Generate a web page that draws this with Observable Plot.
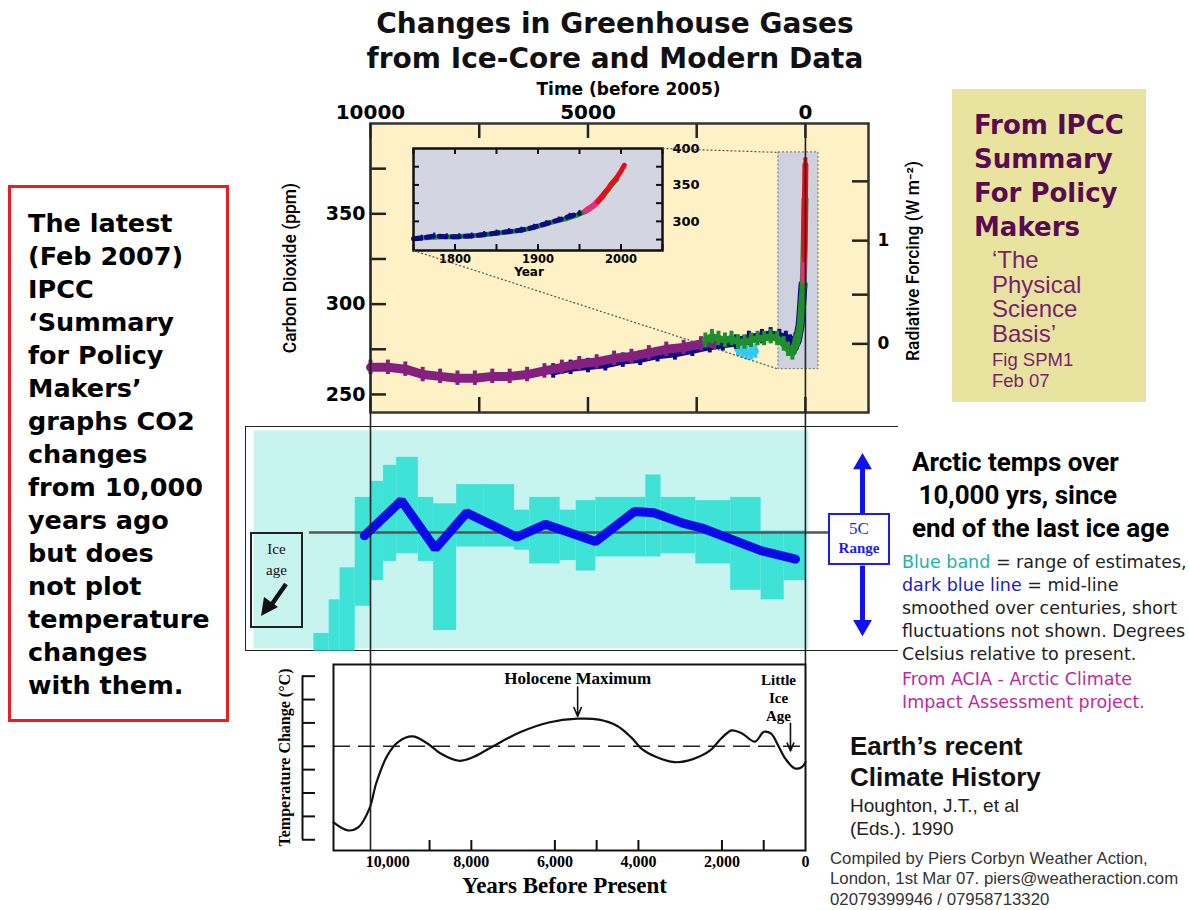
<!DOCTYPE html>
<html><head><meta charset="utf-8">
<script src="https://cdn.jsdelivr.net/npm/d3@7"></script>
<script src="https://cdn.jsdelivr.net/npm/@observablehq/plot@0.6"></script>
<style>
body{margin:0;background:#fff;}
#page{position:relative;width:1189px;height:910px;overflow:hidden;background:#fff;}
.abs{position:absolute;}
.abs svg{overflow:visible;display:block;max-width:none;background:transparent;}
</style></head><body><div id="page">
<div class="abs" style="left:330px;top:6px;width:570px;text-align:center;font:bold 28px/35px 'DejaVu Sans';color:#111;white-space:nowrap;">Changes in Greenhouse Gases<br>from Ice-Core and Modern Data</div>
<div class="abs" style="left:8px;top:185px;width:221px;height:537px;border:3px solid #ee1c1c;box-sizing:border-box;padding:19px 0 0 17px;font:bold 25.5px/33px 'DejaVu Sans';color:#000;white-space:nowrap;">The latest<br>(Feb 2007)<br>IPCC<br>‘Summary<br>for Policy<br>Makers’<br>graphs CO2<br>changes<br>from 10,000<br>years ago<br>but does<br>not plot<br>temperature<br>changes<br>with them.</div>
<div class="abs" style="left:952px;top:89px;width:194px;height:313px;background:#e8e4a0;">
 <div style="position:absolute;left:22px;top:19px;font:bold 26px/34px 'DejaVu Sans';color:#5a0a50;white-space:nowrap;">From IPCC<br>Summary<br>For Policy<br>Makers</div>
 <div style="position:absolute;left:40px;top:159px;font:24px/24.5px 'Liberation Sans';color:#7a1f6e;white-space:nowrap;">‘The<br>Physical<br>Science<br>Basis’</div>
 <div style="position:absolute;left:40px;top:260px;font:18.5px/21px 'Liberation Sans';color:#7a1f6e;white-space:nowrap;">Fig SPM1<br>Feb 07</div>
</div>
<div class="abs" style="left:245px;top:426px;width:653px;height:225px;border-top:1.5px solid #222;border-left:1.5px solid #222;border-bottom:1.5px solid #222;box-sizing:border-box;"></div>
<div id="topChart" class="abs"></div>
<div id="insetChart" class="abs"></div>
<div id="arcticChart" class="abs"></div>
<div id="bottomChart" class="abs"></div>
<div id="overlay" class="abs" style="left:0;top:0;pointer-events:none;"></div>
<div class="abs" style="left:250px;top:532px;width:53px;height:96px;border:2px solid #222;box-sizing:border-box;font-family:'Liberation Serif';text-align:center;font-size:15px;line-height:21px;color:#111;">
 <div style="margin-top:5px">Ice</div><div>age</div>
 <svg width="49" height="36" style="display:block"><line x1="34" y1="3" x2="20" y2="23" stroke="#111" stroke-width="4.5"/><polygon points="9,35 12,16 26,26" fill="#111"/></svg>
</div>
<div class="abs" style="left:828px;top:513px;width:62px;height:52px;border:2px solid #1c1cf0;box-sizing:border-box;background:#fff;color:#1c1cf0;font-family:'Liberation Serif';text-align:center;"><div style="font-size:17px;line-height:20px;margin-top:4px">5C</div><div style="font-size:15px;line-height:18px;font-weight:bold">Range</div></div>
<div class="abs" style="left:912px;top:446px;font:bold 26px/33px Roboto;color:#000;white-space:nowrap;">Arctic temps over<br>&nbsp;10,000 yrs, since<br>end of the last ice age</div>
<div class="abs" style="left:902px;top:551px;font:17.5px/23px 'DejaVu Sans';color:#222;white-space:nowrap;"><span style="color:#22b2aa">Blue band</span> = range of estimates,<br><span style="color:#1c1ccc">dark blue line</span> = mid-line<br>smoothed over centuries, short<br>fluctuations not shown. Degrees<br>Celsius relative to present.</div>
<div class="abs" style="left:902px;top:668px;font:17.5px/23px 'DejaVu Sans';color:#c02a9e;white-space:nowrap;">From ACIA - Arctic Climate<br>Impact Assessment project.</div>
<div class="abs" style="left:850px;top:731px;font:bold 26px/31px 'Liberation Sans';color:#111;white-space:nowrap;">Earth’s recent<br>Climate History</div>
<div class="abs" style="left:850px;top:794px;font:19px/23px 'Liberation Sans';color:#222;white-space:nowrap;">Houghton, J.T., et al<br>(Eds.). 1990</div>
<div class="abs" style="left:830px;top:849px;font:16.8px/20.3px 'Liberation Sans';color:#333;white-space:nowrap;">Compiled by Piers Corbyn Weather Action,<br>London, 1st Mar 07. piers@weatheraction.com<br>02079399946 / 07958713320</div>
</div>
<script>
// ================= DATA =================
// --- Top chart: CO2 (ppm) vs time before 2005 (ice cores) ---
const purpleYears = [10000,9600,9200,8800,8400,8000,7600,7200,6800,6400,6000,5600,5200,4800,4400,4000,3600,3200,2800,2400,2100];
const purplePpm   = [265,265,264,261,260,259,259,260,260,261,263,265,267,268,270,271,273,275,276,278,279];
const blueYears   = [5800,5400,5000,4600,4200,3800,3400,3000,2600,2200,1900,1600,1300,1000,800,600,450,350,300];
const bluePpm     = [263,265,266,267,269,270,272,273,275,277,278,279,281,282,283,282,281,279,278];
const greenYears  = [2300,2150,2000,1850,1700,1550,1400,1250,1100,950,800,650,500,400,300];
const greenPpm    = [280,282,281,280,281,279,279,280,281,281,282,281,278,275,273];
const cyanYears   = [1550,1450,1350,1250,1150];
const cyanPpm     = [275,274,273,273,274];
// --- Inset: CO2 (ppm) vs calendar year ---
const insetBlueYear  = [1750,1760,1775,1790,1805,1820,1835,1850,1865,1880,1895,1910,1925,1938,1950];
const insetBluePpm   = [276,277,280,279,279,280,282,284,286,288,292,297,302,307,311];
const insetGreenYear = [1755,1770,1785,1800,1815,1830,1845,1860,1875,1890,1905,1920,1935,1948,1958,1968,1978,1988,1995];
const insetGreenPpm  = [277,278,279,279,280,281,283,285,287,290,295,300,304,309,314,322,334,349,358];
const insetPinkYear  = [1958,1962,1966,1970,1974,1978];
const insetPinkPpm   = [315,318,321,325,330,335];
const insetRedYear   = [1972,1976,1980,1984,1988,1992,1996,2000,2004];
const insetRedPpm    = [327,332,339,344,351,356,362,369,377];
// --- Axis ticks / labels ---
const topTicks = [10000,7500,5000,2500,0];
const topTickLabels = [10000,5000,0];
const co2Ticks = [250,275,300,325,350,375];
const co2Labels = [250,300,350];
const rfTicks = [0,0.5,1,1.5];
const rfLabels = [0,1];
const zoomBoxYears = [620,-300];
const zoomBoxPpm = [264,384];
const insetYearTicks = [1750,1800,1850,1900,1950,2000,2050];
const insetYearLabels = [1800,1900,2000];
const insetPpmTicks = [275,300,325,350,375];
const insetPpmLabels = [300,350,400];
// --- Arctic (ACIA): temperature band (°C rel. present) in bins of years BP ---
const bandStart = [11300,10950,10700,10350,10000,9700,9400,8900,8550,8020,7400,6690,6340,5640,5270,4820,3670,3320,2520,1720,1020,490];
const bandEnd   = [10950,10700,10350,10000,9700,9400,8900,8550,8020,7400,6690,6340,5640,5270,4820,3670,3320,2520,1720,1020,490,0];
const bandHigh  = [-3.15,-2.1,-1.1,1.1,1.6,2.1,2.35,1.1,0.9,1.5,1.5,0.7,1.1,0.7,1.0,1.1,1.8,1.1,1.0,1.1,0.05,0.05];
const bandLow   = [-3.7,-3.7,-3.7,-2.3,-1.5,-0.9,-0.66,-0.9,-3.06,-0.45,-0.45,-0.55,-0.98,-0.87,-1.2,-0.76,-0.76,-0.66,-0.98,-1.8,-2.1,-1.5];
const lineYears = [10140,9290,8510,7790,6640,5980,4830,3930,3490,2780,2350,1010,230];
const lineTemp  = [-0.1,1.0,-0.5,0.62,-0.14,0.26,-0.28,0.66,0.62,0.28,0.13,-0.57,-0.83];
const rangeYear = -1310;            // where the "5C range" arrow sits
const rangeTop = 2.15, rangeBottom = -2.9, rangeBoxTop = 0.6, rangeBoxBottom = -1.03;
const zeroLineYears = [11400,-580];
// --- Bottom (Houghton 1990): temperature change vs years before present ---
const houghtonYears = [11300,10957,10700,10443,10270,10012,9755,9411,9067,8724,8294,7952,7521,6835,6148,5460,4945,4516,4172,3914,3571,3140,2712,2282,2025,1768,1510,1210,995,823,651,478,263,93,0];
const houghtonTemp  = [-1.63,-1.8,-1.73,-1.34,-0.77,-0.2,0.09,0.21,0.07,-0.16,-0.31,-0.23,-0.02,0.3,0.51,0.59,0.57,0.44,0.19,-0.06,-0.23,-0.34,-0.28,-0.09,0.16,0.34,0.27,0.1,0.31,0.27,0.01,-0.27,-0.47,-0.45,-0.34];
const bottomTicks = [9000,8000,6000,5000,4000,2000,1000];
const bottomLabels = [10000,8000,6000,4000,2000,0];
const tempTicks = [1.5,1,0.5,0,-0.5,-1,-1.5,-2];
const holoceneNote = {x: 5455, y: 1.45, arrowFrom: 1.27, arrowTo: 0.64, text: "Holocene Maximum"};
const liaNote = {x: 646, y: 1.05, arrowX: 360, arrowFrom: 0.49, arrowTo: -0.1, text: "Little\nIce\nAge"};

// ================= HELPERS =================
const zip = (xs, ys) => xs.map((x, i) => ({x, y: ys[i]}));
const toBP = yr => 2005 - yr;
const zipBP = (yrs, ys) => yrs.map((yr, i) => ({x: toBP(yr), y: ys[i]}));
const rfToCo2 = rf => 278 * Math.exp(rf / 5.35);
const co2ToRf = c => 5.35 * Math.log(c / 278);
function place(id, L, svg) {
  const el = document.getElementById(id);
  el.style.left = L.left + "px"; el.style.top = L.top + "px";
  el.appendChild(svg);
}
const COL = {purple:"#84207f", blue:"#0b0b86", green:"#1f8f2c", cyan:"#36c9ef", pink:"#ee2a7b", red:"#e0101c"};

// ================= TOP CHART =================
const T = {left:270, top:78, width:680, height:342, ml:100, mr:82, mt:45, mb:8};
const tFW = T.width - T.ml - T.mr, tFH = T.height - T.mt - T.mb;
const ERR = 4;
function co2Series(data, color, w = 8) {
  return [
    Plot.line(data, {x:"x", y:"y", stroke:color, strokeWidth:w}),
    Plot.ruleX(data, {x:"x", y1:d => d.y - ERR, y2:d => d.y + ERR, stroke:color, strokeWidth:4})
  ];
}
const purple = zip(purpleYears, purplePpm);
const blueAll = zip(blueYears, bluePpm).concat(zipBP(insetBlueYear, insetBluePpm));
const greenAll = zip(greenYears, greenPpm).concat(zipBP(insetGreenYear, insetGreenPpm));
const cyan = zip(cyanYears, cyanPpm);
const pinkBP = zipBP(insetPinkYear, insetPinkPpm);
const redBP = zipBP(insetRedYear, insetRedPpm);

const topPlot = Plot.plot({
  width:T.width, height:T.height, marginLeft:T.ml, marginRight:T.mr, marginTop:T.mt, marginBottom:T.mb,
  style:{background:"transparent", overflow:"visible", fontFamily:"'DejaVu Sans'"},
  x:{domain:[10000,-1450]}, y:{domain:[240,400]},
  marks:[
    Plot.frame({fill:"#fdf1c5"}),
    Plot.rect([0], {x1:zoomBoxYears[0], x2:zoomBoxYears[1], y1:zoomBoxPpm[0], y2:zoomBoxPpm[1], fill:"#cfd2de", stroke:"#6a6a6a", strokeDasharray:"2,2"}),
    ...co2Series(cyan, COL.cyan, 7),
    ...co2Series(blueAll, COL.blue, 9),
    ...co2Series(purple, COL.purple, 9),
    ...co2Series(greenAll, COL.green, 7),
    ...co2Series(pinkBP, COL.pink, 6),
    ...co2Series(redBP, COL.red, 6),
    Plot.tickX(topTicks, {x:d => d, insetBottom:tFH - 15, stroke:"#222", strokeWidth:2.5}),
    Plot.tickX(topTicks, {x:d => d, insetTop:tFH - 15, stroke:"#222", strokeWidth:2.5}),
    Plot.tickY(co2Ticks, {y:d => d, insetRight:tFW - 16, stroke:"#222", strokeWidth:2.5}),
    Plot.tickY(rfTicks.map(rfToCo2), {y:d => d, insetLeft:tFW - 16, stroke:"#222", strokeWidth:2.5}),
    Plot.axisX(topTickLabels, {anchor:"top", tickSize:0, tickPadding:5, fontSize:20, fontWeight:"bold", tickFormat:d => String(d), label:null}),
    Plot.axisY(co2Labels, {anchor:"left", tickSize:0, tickPadding:5, fontSize:19, fontWeight:"bold", label:null}),
    Plot.axisY(rfLabels.map(rfToCo2), {anchor:"right", tickSize:0, tickPadding:9, fontSize:17, fontWeight:"bold", tickFormat:v => String(Math.round(co2ToRf(v))), label:null}),
    Plot.text(["Time (before 2005)"], {frameAnchor:"top", dy:-41, dx:9, fontSize:17, fontWeight:"bold"}),
    Plot.text(["Carbon Dioxide (ppm)"], {frameAnchor:"left", textAnchor:"middle", dx:-80, rotate:-90, fontSize:17.5, fontFamily:"Roboto", fontWeight:500}),
    Plot.text(["Radiative Forcing (W m⁻²)"], {frameAnchor:"right", textAnchor:"middle", dx:45, dy:-7, rotate:-90, fontSize:17.5, fontFamily:"Roboto", fontWeight:500}),
    Plot.frame({stroke:"#333", strokeWidth:2.5})
  ]
});
place("topChart", T, topPlot);

// ================= INSET =================
const I = {left:403, top:140, width:300, height:140, ml:10, mr:41, mt:8, mb:30};
const iFW = I.width - I.ml - I.mr, iFH = I.height - I.mt - I.mb;
const insetPlot = Plot.plot({
  width:I.width, height:I.height, marginLeft:I.ml, marginRight:I.mr, marginTop:I.mt, marginBottom:I.mb,
  style:{background:"transparent", overflow:"visible", fontFamily:"'DejaVu Sans'"},
  x:{domain:[1750,2050]}, y:{domain:[260,400]},
  marks:[
    Plot.frame({fill:"#d3d5e0"}),
    Plot.line(zip(insetGreenYear, insetGreenPpm), {x:"x", y:"y", stroke:COL.green, strokeWidth:5}),
    Plot.line(zip(insetBlueYear, insetBluePpm), {x:"x", y:"y", stroke:COL.blue, strokeWidth:5, strokeDasharray:"7,6"}),
    Plot.ruleX(zip(insetBlueYear, insetBluePpm), {x:"x", y1:d => d.y - 4, y2:d => d.y + 4, stroke:COL.blue, strokeWidth:2}),
    Plot.line(zip(insetPinkYear, insetPinkPpm), {x:"x", y:"y", stroke:COL.pink, strokeWidth:6}),
    Plot.line(zip(insetRedYear, insetRedPpm), {x:"x", y:"y", stroke:COL.red, strokeWidth:5}),
    Plot.tickX(insetYearTicks, {x:d => d, insetBottom:iFH - 6, stroke:"#111", strokeWidth:2}),
    Plot.tickX(insetYearTicks, {x:d => d, insetTop:iFH - 6, stroke:"#111", strokeWidth:2}),
    Plot.tickY(insetPpmTicks, {y:d => d, insetRight:iFW - 6, stroke:"#111", strokeWidth:2}),
    Plot.tickY(insetPpmTicks, {y:d => d, insetLeft:iFW - 6, stroke:"#111", strokeWidth:2}),
    Plot.axisX(insetYearLabels, {anchor:"bottom", tickSize:0, tickPadding:4, fontSize:11.5, fontWeight:"bold", tickFormat:d => String(d), label:null}),
    Plot.axisY(insetPpmLabels, {anchor:"right", tickSize:0, tickPadding:10, fontSize:13, fontWeight:"bold", label:null}),
    Plot.text(["Year"], {frameAnchor:"bottom", dy:25, dx:-9, fontSize:12, fontWeight:"bold"}),
    Plot.frame({stroke:"#111", strokeWidth:2.5})
  ]
});
place("insetChart", I, insetPlot);

// ================= ARCTIC =================
const A = {left:240, top:420, width:660, height:235, ml:13, mr:92, mt:10, mb:7};
const band = bandStart.map((s, i) => ({start:s, end:bandEnd[i], high:bandHigh[i], low:bandLow[i]}));
const midLine = zip(lineYears, lineTemp);
const rangeArrows = [{y1:rangeBoxTop, y2:rangeTop, rot:0}, {y1:rangeBoxBottom, y2:rangeBottom, rot:180}];
const arcticPlot = Plot.plot({
  width:A.width, height:A.height, marginLeft:A.ml, marginRight:A.mr, marginTop:A.mt, marginBottom:A.mb,
  style:{background:"transparent", overflow:"visible"},
  x:{domain:[12690,-69], axis:null}, y:{domain:[-3.62,3.19], axis:null},
  marks:[
    Plot.frame({fill:"#c8f4ef"}),
    Plot.rect(band, {x1:"start", x2:"end", y1:"low", y2:"high", fill:"#3fe2d7"}),
    Plot.ruleY([0], {x1:zeroLineYears[0], x2:zeroLineYears[1], stroke:"#555", strokeWidth:2.5}),
    Plot.line(midLine, {x:"x", y:"y", stroke:"#0a0ae8", strokeWidth:9, strokeLinejoin:"miter"}),
    Plot.link(rangeArrows, {x1:rangeYear, x2:rangeYear, y1:"y1", y2:"y2", stroke:"#1010f0", strokeWidth:5}),
    Plot.dot(rangeArrows, {x:rangeYear, y:"y2", symbol:"triangle2", r:9, fill:"#1010f0", rotate:"rot"})
  ]
});
place("arcticChart", A, arcticPlot);

// ================= BOTTOM (Houghton) =================
const B = {left:270, top:655, width:560, height:250, ml:63, mr:25, mt:9, mb:55};
const bFW = B.width - B.ml - B.mr, bFH = B.height - B.mt - B.mb;
const serif = "'Liberation Serif'";
const bottomPlot = Plot.plot({
  width:B.width, height:B.height, marginLeft:B.ml, marginRight:B.mr, marginTop:B.mt, marginBottom:B.mb,
  style:{background:"transparent", overflow:"visible", fontFamily:serif},
  x:{domain:[11300,0]}, y:{domain:[-2.23,1.75], axis:null},
  marks:[
    Plot.ruleY([0], {stroke:"#222", strokeWidth:1.6, strokeDasharray:"17,8"}),
    Plot.line(zip(houghtonYears, houghtonTemp), {x:"x", y:"y", curve:"catmull-rom", stroke:"#111", strokeWidth:2.2}),
    Plot.tickX(bottomTicks, {x:d => d, insetTop:bFH - 10, stroke:"#111", strokeWidth:2}),
    Plot.tickY(tempTicks, {y:d => d, insetRight:bFW - 13, dx:-31, stroke:"#111", strokeWidth:2}),
    Plot.ruleX([11300], {y1:d3.min(tempTicks), y2:d3.max(tempTicks), dx:-31, stroke:"#111", strokeWidth:2}),
    Plot.axisX(bottomLabels, {anchor:"bottom", tickSize:0, tickPadding:5, fontSize:16, fontWeight:"bold", tickFormat:d3.format(","), label:null}),
    Plot.text(["Years Before Present"], {frameAnchor:"bottom", dy:42, dx:-5, fontSize:23, fontWeight:"bold"}),
    Plot.text(["Temperature Change (°C)"], {frameAnchor:"left", textAnchor:"middle", dx:-49, rotate:-90, fontSize:16, fontWeight:"bold"}),
    Plot.text([holoceneNote], {x:"x", y:"y", text:"text", fontSize:17, fontWeight:"bold"}),
    Plot.arrow([holoceneNote], {x1:"x", x2:"x", y1:"arrowFrom", y2:"arrowTo", stroke:"#111", strokeWidth:1.6, headLength:9, headAngle:45}),
    Plot.text([liaNote], {x:"x", y:"y", text:"text", fontSize:15, fontWeight:"bold", lineHeight:1.22}),
    Plot.arrow([liaNote], {x1:"arrowX", x2:"arrowX", y1:"arrowFrom", y2:"arrowTo", stroke:"#111", strokeWidth:1.6, headLength:8, headAngle:45}),
    Plot.frame({stroke:"#111", strokeWidth:2})
  ]
});
place("bottomChart", B, bottomPlot);

// ================= OVERLAY: guide lines & inset connectors =================
const tx = v => T.left + topPlot.scale("x").apply(v);
const ty = v => T.top + topPlot.scale("y").apply(v);
const guides = [
  {x:tx(10000), y1:T.top + T.mt, y2:B.top + B.height - B.mb},
  {x:tx(0), y1:T.top + T.mt, y2:B.top + B.mt}
];
const connectors = [
  {x1:I.left + I.width - I.mr, y1:I.top + I.mt, x2:tx(zoomBoxYears[0]), y2:ty(zoomBoxPpm[1])},
  {x1:I.left + I.ml, y1:I.top + I.height - I.mb, x2:tx(zoomBoxYears[0]), y2:ty(zoomBoxPpm[0])}
];
const overlay = Plot.plot({
  width:1189, height:910, margin:0,
  style:{background:"transparent", overflow:"visible"},
  x:{type:"identity", axis:null}, y:{type:"identity", axis:null},
  marks:[
    Plot.link(connectors, {x1:"x1", y1:"y1", x2:"x2", y2:"y2", stroke:"#555", strokeWidth:1.2, strokeDasharray:"2,2"}),
    Plot.ruleX(guides, {x:"x", y1:"y1", y2:"y2", stroke:"#222", strokeWidth:1.6})
  ]
});
place("overlay", {left:0, top:0}, overlay);
</script></body></html>
